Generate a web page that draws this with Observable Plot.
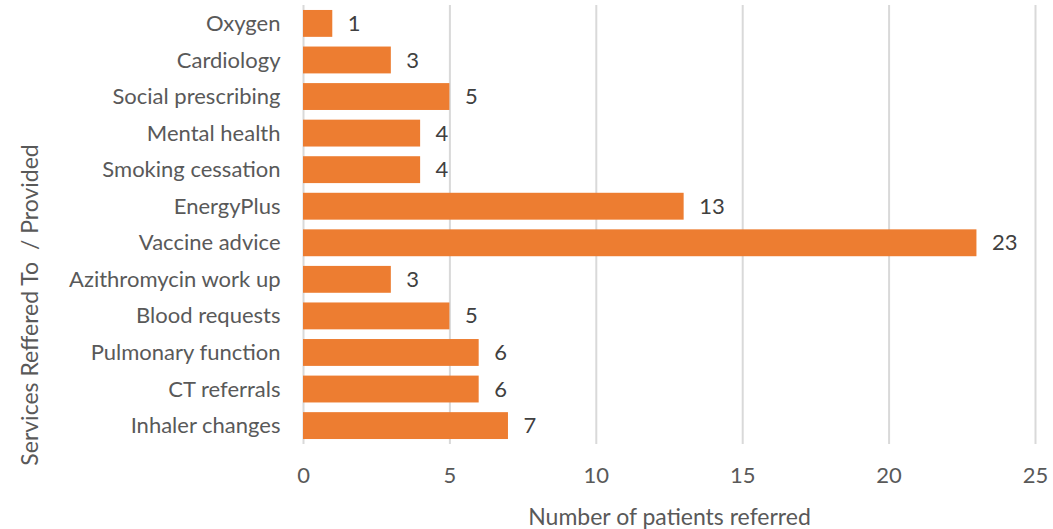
<!DOCTYPE html>
<html>
<head>
<meta charset="utf-8">
<script src="https://cdn.jsdelivr.net/npm/d3@7"></script>
<script src="https://cdn.jsdelivr.net/npm/@observablehq/plot@0.6"></script>
<style>
  html, body { margin: 0; padding: 0; background: #fff; }
  #chart { width: 1053px; height: 529px; }
</style>
</head>
<body>
<div id="chart"></div>
<script>
const services = ["Oxygen", "Cardiology", "Social prescribing", "Mental health", "Smoking cessation", "EnergyPlus", "Vaccine advice", "Azithromycin work up", "Blood requests", "Pulmonary function", "CT referrals", "Inhaler changes"];
const patients = [1, 3, 5, 4, 4, 13, 23, 3, 5, 6, 6, 7];
const xTicks = [0, 5, 10, 15, 20, 25];
const xTitle = "Number of patients referred";
const yTitle = "Services Reffered To  / Provided";

const data = services.map((s, i) => ({service: s, value: patients[i]}));
const font = "Lato, 'Open Sans', sans-serif";

const chart = Plot.plot({
  width: 1053,
  height: 529,
  marginTop: 5,
  marginBottom: 85,
  marginLeft: 303,
  marginRight: 18,
  style: {fontFamily: font, fontSize: "22px", color: "#595959", background: "#fff"},
  x: {domain: [0, 25], ticks: xTicks, label: null},
  y: {domain: services, paddingInner: 0.265, paddingOuter: 0.136, round: false, label: null},
  marks: [
    Plot.gridX(xTicks, {stroke: "#d9d9d9", strokeOpacity: 1, strokeWidth: 2}),
    Plot.barX(data, {x: "value", y: "service", fill: "#ED7D31"}),
    Plot.text(data, {x: "value", y: "service", text: d => String(d.value), textAnchor: "start", dx: 15, fill: "#404040", fontSize: 22}),
    Plot.axisX(xTicks, {tickSize: 0, tickPadding: 23, fontSize: 22, fill: "#595959", label: null}),
    Plot.axisY({tickSize: 0, tickPadding: 23, fontSize: 22, fill: "#595959", label: null}),
    Plot.text([xTitle], {frameAnchor: "bottom", dy: 73, lineAnchor: "middle", fontSize: 23, fill: "#595959"}),
    Plot.text([yTitle], {frameAnchor: "left", dx: -273, dy: 80, rotate: -90, textAnchor: "middle", lineAnchor: "middle", fontSize: 23, fill: "#595959"})
  ]
});
document.getElementById("chart").appendChild(chart);
</script>
</body>
</html>
